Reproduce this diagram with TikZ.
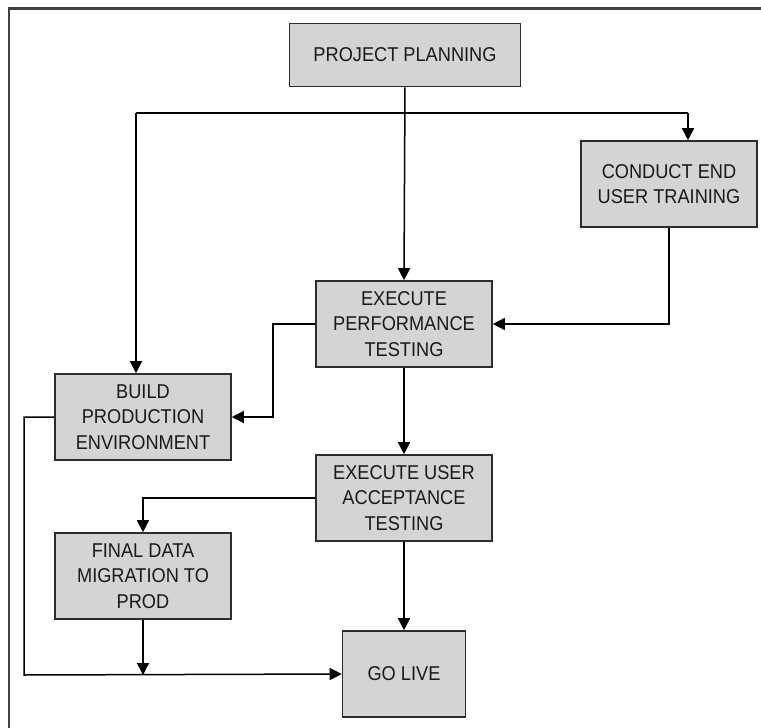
\documentclass[tikz,border=0pt]{standalone}
\usepackage{fontspec}
\setmainfont{Liberation Sans}[FakeStretch=0.91]
\usetikzlibrary{arrows.meta}
\definecolor{boxfill}{RGB}{212,212,212}
\definecolor{boxline}{RGB}{45,45,45}
\tikzset{
  stepbox/.style={draw=boxline, line width=1.6pt, fill=boxfill,
    minimum width=176pt, minimum height=86pt, inner sep=0pt,
    align=center, font=\fontsize{20}{25.5}\selectfont, text=black!90},
  flow/.style={draw=black, line width=1.5pt,
    -{Triangle[width=12pt,length=12pt]}},
  link/.style={draw=black, line width=1.5pt}
}
\begin{document}
\begin{tikzpicture}[x=1pt,y=-1pt]
\useasboundingbox (0,0) rectangle (761,728);
% frame along the top and left edges
\draw[line width=2.4pt, draw=black!75] (9,728) -- (9,8.5) -- (761,8.5);

\node[stepbox, minimum width=231pt, minimum height=63pt] (pp) at (405,55) {PROJECT PLANNING};
\node[stepbox] (ceut) at (669,184) {CONDUCT END\\USER TRAINING};
\node[stepbox] (ept) at (404,324) {EXECUTE\\PERFORMANCE\\TESTING};
\node[stepbox] (bpe) at (143,417) {BUILD\\PRODUCTION\\ENVIRONMENT};
\node[stepbox] (euat) at (404,498) {EXECUTE USER\\ACCEPTANCE\\TESTING};
\node[stepbox] (fdm) at (143,576) {FINAL DATA\\MIGRATION TO\\PROD};
\node[stepbox, minimum width=123pt] (gl) at (404,674) {GO LIVE};

\coordinate (jl) at (136,113);
\coordinate (jr) at (688,113);
\coordinate (ep) at (273,324);
\coordinate (eb) at (273,417);
\coordinate (bl) at (24,417);
\coordinate (bb) at (24,675);
\coordinate (fm) at (143,675);

% planning fans out
\draw[flow] (pp.south) -- (ept.north);
\draw[link] (jl) -- (jr);
\draw[flow] (jl) -- (jl |- bpe.north);
\draw[flow] (jr) -- (jr |- ceut.north);
% training feeds performance testing
\draw[flow] (ceut.south) |- (ept.east);
% performance testing feeds the production build
\draw[flow] (ept.west) -- (ep) -- (eb) -- (bpe.east);
\draw[flow] (ept.south) -- (euat.north);
% acceptance testing feeds data migration and go live
\draw[flow] (euat.west) -| (fdm.north);
\draw[flow] (euat.south) -- (gl.north);
% production environment joins the go-live line
\draw[flow] (bpe.west) -- (bl) -- (bb) -- (gl.west);
\draw[flow] (fdm.south) -- (fm);
\end{tikzpicture}
\end{document}
